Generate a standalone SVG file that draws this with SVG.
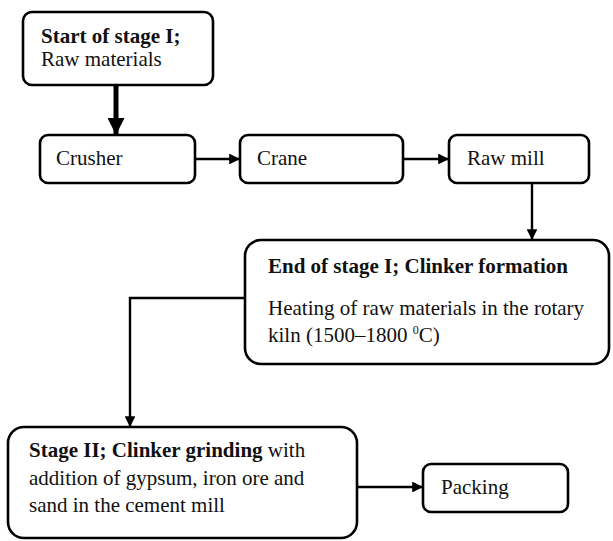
<svg xmlns="http://www.w3.org/2000/svg" width="613" height="541" viewBox="0 0 613 541">
<style>
.box{fill:#fff;stroke:#000;stroke-width:2.6}
.t{font-family:"Liberation Serif","Times New Roman",serif;font-size:21px;fill:#111}
.b{font-weight:bold}
.c{fill:none;stroke:#000;stroke-width:2.4}
</style>
<defs>
<marker id="ah" viewBox="0 0 10 10" refX="10" refY="5" markerWidth="4.5" markerHeight="4.5" orient="auto" markerUnits="strokeWidth">
<path d="M0,0 L10,5 L0,10 z" fill="#000"/>
</marker>
<marker id="ahb" viewBox="0 0 10 10" refX="10" refY="5" markerWidth="3.4" markerHeight="3.4" orient="auto" markerUnits="strokeWidth">
<path d="M0,0 L10,5 L0,10 z" fill="#000"/>
</marker>
</defs>
<g id="connectors">
<path class="c" d="M116,85 L116,135" style="stroke-width:5" marker-end="url(#ahb)"/>
<path class="c" d="M195,159 L240,159" marker-end="url(#ah)"/>
<path class="c" d="M403,159 L449,159" marker-end="url(#ah)"/>
<path class="c" d="M532,183 L532,240" marker-end="url(#ah)"/>
<path class="c" d="M245,298 L130,298 L130,427" marker-end="url(#ah)"/>
<path class="c" d="M357,487 L423,487" marker-end="url(#ah)"/>
</g>
<g id="start">
<rect class="box" x="23" y="12" width="190" height="73" rx="9"/>
<text class="t b" x="41" y="43">Start of stage I;</text>
<text class="t" x="41" y="66">Raw materials</text>
</g>
<g id="crusher">
<rect class="box" x="40" y="135" width="155" height="48" rx="8"/>
<text class="t" x="56" y="165">Crusher</text>
</g>
<g id="crane">
<rect class="box" x="240" y="135" width="163" height="48" rx="8"/>
<text class="t" x="257" y="165">Crane</text>
</g>
<g id="rawmill">
<rect class="box" x="449" y="135" width="140" height="48" rx="8"/>
<text class="t" x="467" y="165">Raw mill</text>
</g>
<g id="clinker">
<rect class="box" x="245" y="240" width="364" height="124" rx="16"/>
<text class="t b" x="268" y="273">End of stage I; Clinker formation</text>
<text class="t" x="268" y="315">Heating of raw materials in the rotary</text>
<text class="t" x="268" y="342">kiln (1500–1800 <tspan font-size="12" dy="-8">0</tspan><tspan dy="8">C)</tspan></text>
</g>
<g id="stage2">
<rect class="box" x="8" y="427" width="349" height="111" rx="16"/>
<text class="t" x="29" y="457"><tspan class="b">Stage II; Clinker grinding</tspan> with</text>
<text class="t" x="29" y="485">addition of gypsum, iron ore and</text>
<text class="t" x="29" y="512">sand in the cement mill</text>
</g>
<g id="packing">
<rect class="box" x="423" y="464" width="145" height="48" rx="8"/>
<text class="t" x="441" y="494">Packing</text>
</g>
</svg>
